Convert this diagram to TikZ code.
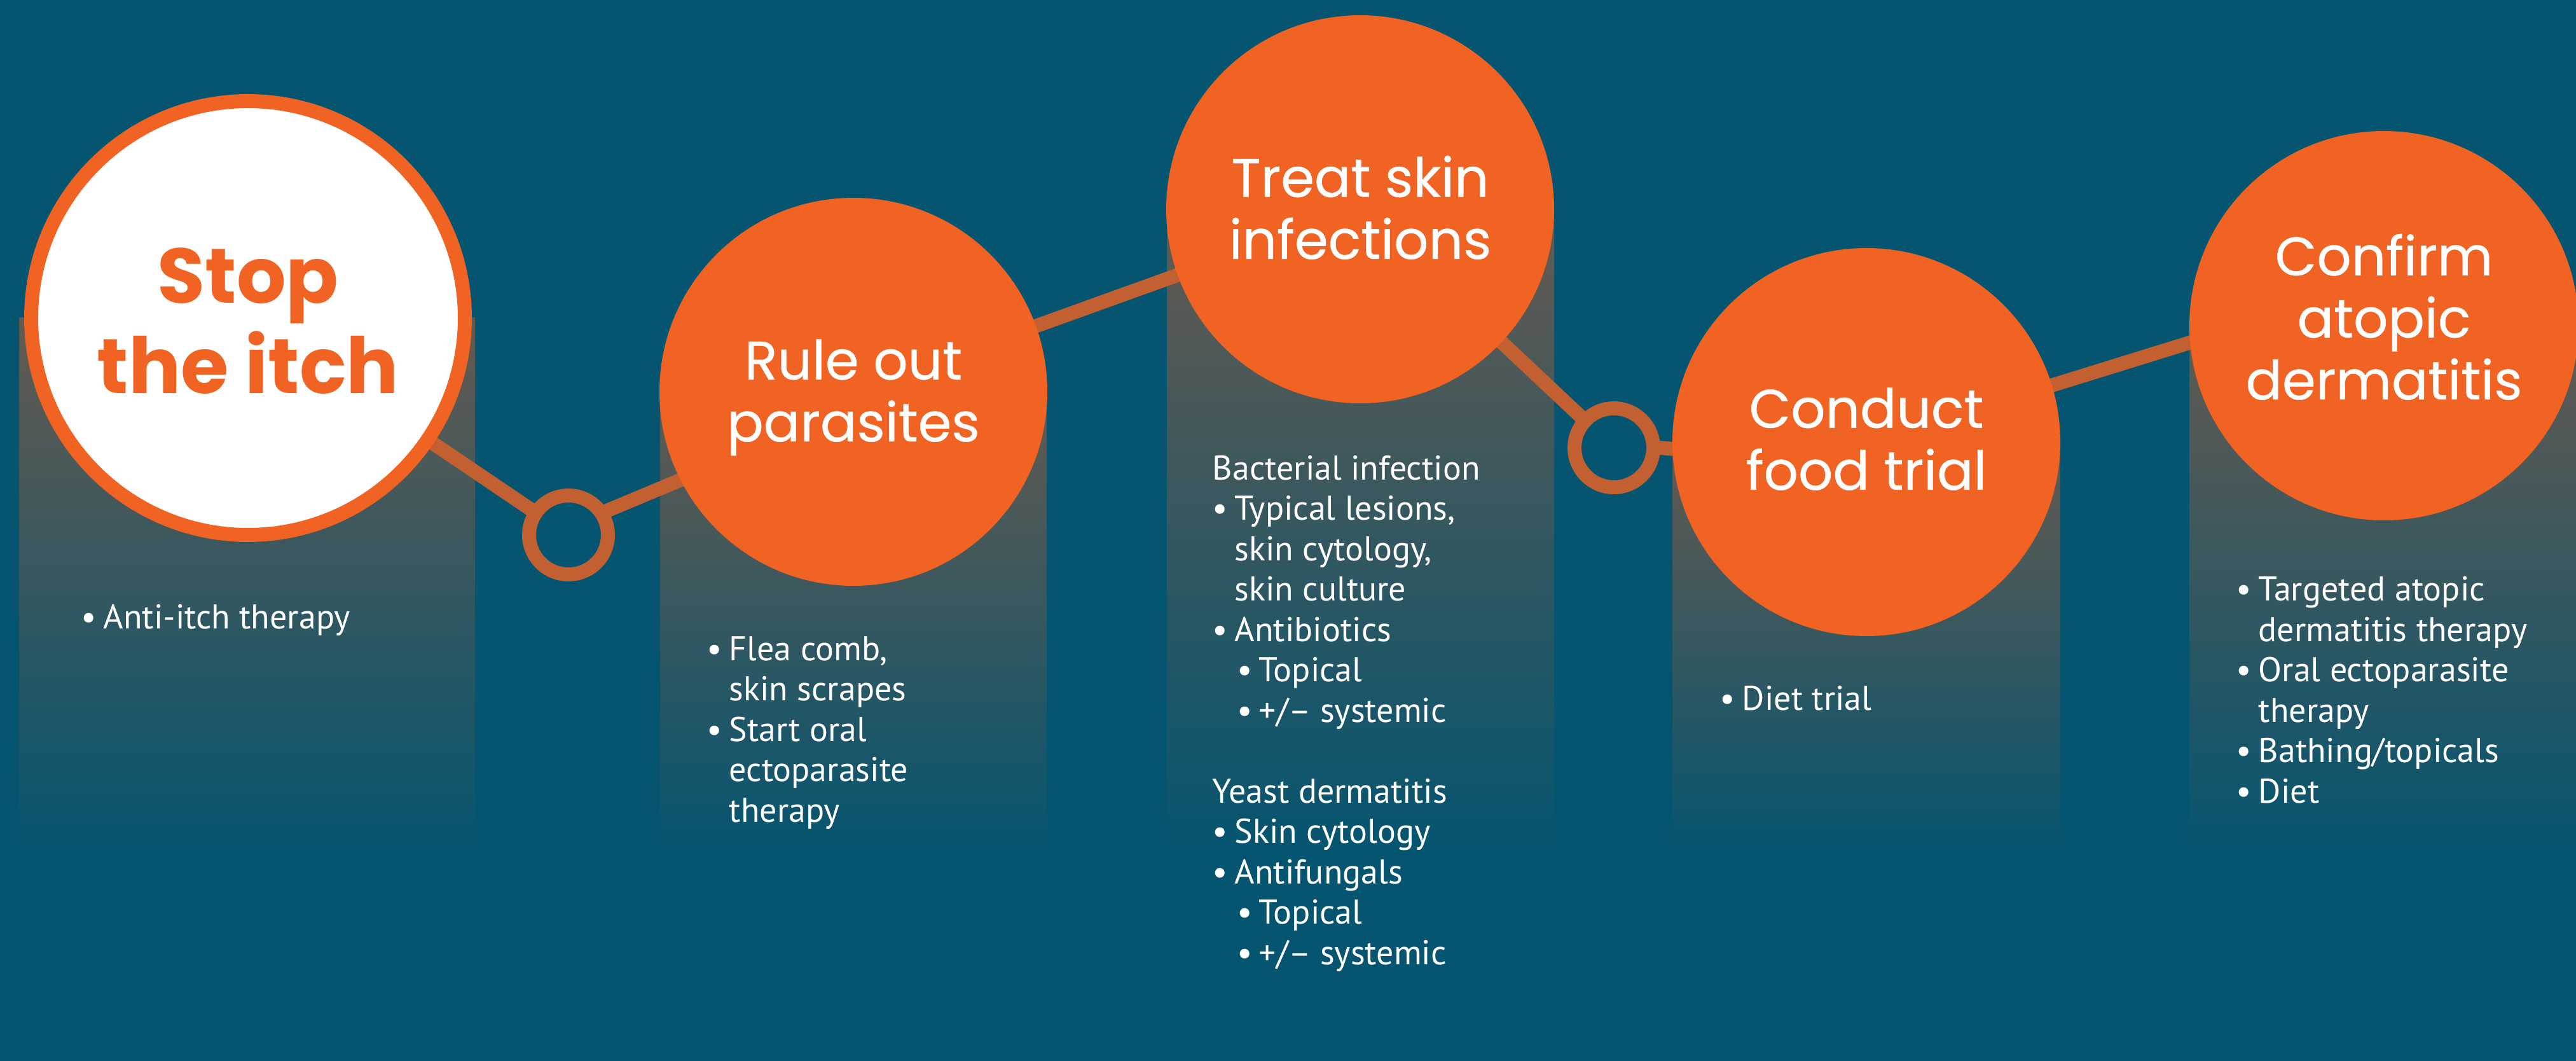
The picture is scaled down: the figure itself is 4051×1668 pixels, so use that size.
\documentclass[tikz,border=0pt]{standalone}
\usepackage{fontspec}
\setmainfont{PT Sans}
\newfontfamily\titlefont[FakeBold=0.5]{Poppins}
\newfontfamily\titlebold{Poppins}
\definecolor{bgblue}{RGB}{5,85,112}
\definecolor{orng}{RGB}{241,99,35}
\definecolor{conn}{RGB}{195,96,50}
\definecolor{coltop}{RGB}{100,90,80}
\definecolor{colmid}{RGB}{70,88,90}
\pgfdeclarelayer{back}
\pgfsetlayers{back,main}
\newcommand\bul{\makebox[8.75pt][l]{•}}
\newcommand\ind{\hspace*{8.75pt}}
\newcommand\sbul{\hspace*{9.75pt}\makebox[8.5pt][l]{•}}
\tikzset{
  stepcirc/.style={circle, fill=orng, inner sep=0pt, minimum size=#1},
  ringnode/.style={circle, draw=conn, line width=5.5pt, inner sep=0pt, minimum size=31pt},
  conline/.style={draw=conn, line width=5.5pt},
  colbox/.style={top color=coltop, middle color=colmid, bottom color=bgblue},
  titletext/.style={anchor=base, align=center, inner sep=0pt, text=white,
    font=\titlefont\fontsize{21.25}{24.4}\selectfont},
  bodytext/.style={anchor=base west, align=left, inner sep=0pt, text=white,
    font=\fontsize{13.5}{15.875}\selectfont},
}
\begin{document}
\begin{tikzpicture}[x=0.25pt, y=-0.25pt]
\useasboundingbox (0,0) rectangle (4051,1668);

% step circles
\node[circle, fill=white, draw=orng, line width=5.5pt, inner sep=0pt, minimum size=170.5pt] (c1) at (390,500) {};
\node[stepcirc=152.5pt] (c2) at (1342,616) {};
\node[stepcirc=152.5pt] (c3) at (2139,329) {};
\node[stepcirc=152.5pt] (c4) at (2935,695) {};
\node[stepcirc=153pt] (c5) at (3749,512) {};

% rings
\node[ringnode] (r1) at (894,841) {};
\node[ringnode] (r2) at (2538,704) {};

% titles (anchor = baseline of last line)
\node[titletext, text=orng, font=\titlebold\bfseries\fontsize{30.5}{35.75}\selectfont] (t1) at (390,619) {Stop\\the itch};
\node[titletext] (t2) at (1342,694) {Rule out\\parasites};
\node[titletext] (t3) at (2139,407) {Treat skin\\infections};
\node[titletext] (t4) at (2935,770) {Conduct\\food trial};
\node[titletext] (t5) at (3749,628) {Confirm\\atopic\\dermatitis};

% body texts (anchor = baseline of last line)
\node[bodytext] (b1) at (127,989) {\bul Anti-itch therapy};
\node[bodytext] (b2) at (1111,1292) {\bul Flea comb,\\\ind skin scrapes\\\bul Start oral\\\ind ectoparasite\\\ind therapy};
\node[bodytext] (b3) at (1906,1516) {Bacterial infection\\\bul Typical lesions,\\\ind skin cytology,\\\ind skin culture\\\bul Antibiotics\\\sbul Topical\\\sbul +/– systemic\\[15.875pt]Yeast dermatitis\\\bul Skin cytology\\\bul Antifungals\\\sbul Topical\\\sbul +/– systemic};
\node[bodytext] (b4) at (2704,1116) {\bul Diet trial};
\node[bodytext] (b5) at (3516,1262) {\bul Targeted atopic\\\ind dermatitis therapy\\\bul Oral ectoparasite\\\ind therapy\\\bul Bathing/topicals\\\bul Diet};

\begin{pgfonlayer}{back}
  \fill[bgblue] (0,0) rectangle (4051,1668);
  \shade[colbox] (30,500) rectangle (747,1340);
  \shade[colbox] (1038,616) rectangle (1646,1340);
  \shade[colbox] (1835,329) rectangle (2444,1340);
  \shade[colbox] (2630,695) rectangle (3240,1340);
  \shade[colbox] (3443,512) rectangle (4051,1340);
  % connectors
  \draw[conline, shorten >=-4pt] (c1.center) -- (r1);
  \draw[conline, shorten <=-4pt, shorten >=-10pt] (r1.32) -- (c2.207);
  \draw[conline] (c2.center) -- (c3.center);
  \draw[conline, shorten >=-4pt] (c3.center) -- (r2);
  \draw[conline, shorten <=-4pt, shorten >=-10pt] (r2.0) -- (c4.182);
  \draw[conline, shorten <=-10pt, shorten >=-10pt] (c4.17) -- (c5.185);
\end{pgfonlayer}
\end{tikzpicture}
\end{document}
